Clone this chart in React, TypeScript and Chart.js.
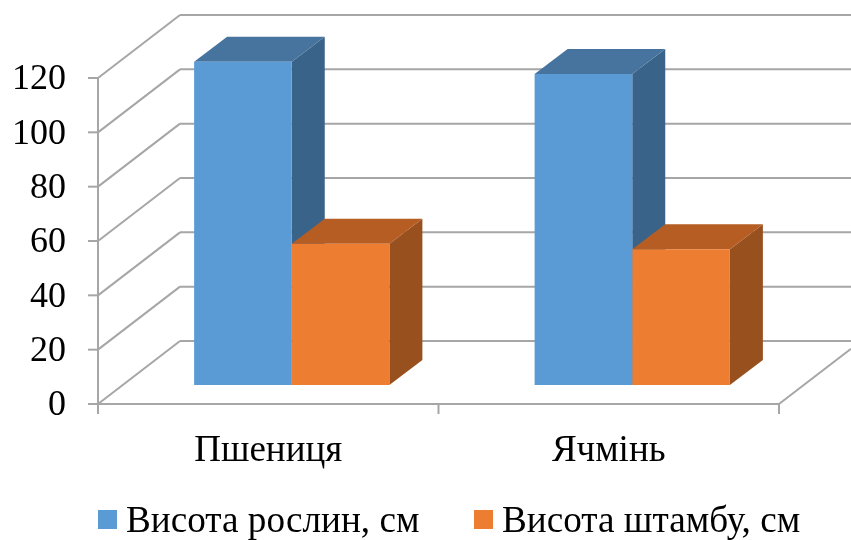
import React, { useEffect, useRef } from "react";
import { Chart, registerables } from "chart.js";

Chart.register(...registerables);

const categories = ["Пшениця", "Ячмінь"];
const plantHeight = [119, 114.5];
const stemHeight = [52, 50];
const seriesNames = ["Висота рослин, см", "Висота штамбу, см"];
const frontColors = ["#5b9bd5", "#ed7d31"];
const topColors = ["#47749f", "#b55d23"];
const sideColors = ["#3a6389", "#97501e"];
const gridColor = "#a6a6a6";
const fontFamily = "'Liberation Serif', serif";

// Oblique projection: how far the back wall sits from the front edge of the floor.
const WALL_DX = 82;
const WALL_DY = -63;
// Bars stand part way into the floor and have a fixed depth.
const BAR_DX = 23.5;
const BAR_DY = -19;
const DEPTH_DX = 33;
const DEPTH_DY = -25;

// Legend row: swatch and text start for each series.
const LEGEND_SWATCH_X = [98, 474];
const LEGEND_TEXT_X = [126, 502];
const LEGEND_SWATCH_Y = 510;
const LEGEND_SWATCH_SIZE = 19;
const LEGEND_BASELINE = 532;

function segment(ctx: CanvasRenderingContext2D, x1: number, y1: number, x2: number, y2: number) {
  ctx.beginPath();
  ctx.moveTo(x1, y1);
  ctx.lineTo(x2, y2);
  ctx.stroke();
}

function face(ctx: CanvasRenderingContext2D, pts: number[][], fill: string) {
  ctx.beginPath();
  pts.forEach(([x, y], i) => (i ? ctx.lineTo(x, y) : ctx.moveTo(x, y)));
  ctx.closePath();
  ctx.fillStyle = fill;
  ctx.fill();
}

const threeD = {
  id: "threeD",
  beforeDatasetsDraw(chart: any) {
    const { ctx, chartArea: a, scales } = chart;
    const right = chart.width;
    ctx.save();
    ctx.strokeStyle = gridColor;
    ctx.lineWidth = 2;
    // Side wall and back wall rulings for each value tick.
    scales.y.ticks.forEach((t: any) => {
      const y = scales.y.getPixelForValue(t.value);
      segment(ctx, a.left - 10, y, a.left, y);
      segment(ctx, a.left, y, a.left + WALL_DX, y + WALL_DY);
      segment(ctx, a.left + WALL_DX, y + WALL_DY, right, y + WALL_DY);
    });
    segment(ctx, a.left, a.top, a.left, a.bottom);
    // Floor outline and category separators.
    segment(ctx, a.left, a.bottom, a.right, a.bottom);
    const slot = (a.right - a.left) / categories.length;
    for (let i = 0; i <= categories.length; i++) {
      const x = a.left + slot * i;
      segment(ctx, x, a.bottom, x, a.bottom + 10);
    }
    const t = (right - a.right) / WALL_DX;
    segment(ctx, a.right, a.bottom, right, a.bottom + WALL_DY * t);
    ctx.restore();

    // Top and side faces first, the flat fronts go over them.
    ctx.save();
    chart.data.datasets.forEach((_: any, di: number) => {
      chart.getDatasetMeta(di).data.forEach((bar: any) => {
        const { x, y, width } = bar;
        const l = x - width / 2 + BAR_DX;
        const r = x + width / 2 + BAR_DX;
        const top = y + BAR_DY;
        const bottom = a.bottom + BAR_DY;
        face(ctx, [[r, top], [r + DEPTH_DX, top + DEPTH_DY], [r + DEPTH_DX, bottom + DEPTH_DY], [r, bottom]], sideColors[di]);
        face(ctx, [[l, top], [l + DEPTH_DX, top + DEPTH_DY], [r + DEPTH_DX, top + DEPTH_DY], [r, top]], topColors[di]);
      });
    });
    ctx.restore();
    ctx.save();
    ctx.translate(BAR_DX, BAR_DY);
  },
  afterDatasetsDraw(chart: any) {
    chart.ctx.restore();
  },
  afterDraw(chart: any) {
    const { ctx } = chart;
    ctx.save();
    ctx.font = `37.2px ${fontFamily}`;
    ctx.textBaseline = "alphabetic";
    seriesNames.forEach((name, i) => {
      ctx.fillStyle = frontColors[i];
      ctx.fillRect(LEGEND_SWATCH_X[i], LEGEND_SWATCH_Y, LEGEND_SWATCH_SIZE, LEGEND_SWATCH_SIZE);
      ctx.fillStyle = "#000";
      ctx.fillText(name, LEGEND_TEXT_X[i], LEGEND_BASELINE);
    });
    ctx.restore();
  },
};

export default function App() {
  const ref = useRef<HTMLCanvasElement>(null);

  useEffect(() => {
    const chart = new Chart(ref.current!, {
      type: "bar",
      data: {
        labels: categories,
        datasets: [
          { label: seriesNames[0], data: plantHeight, backgroundColor: frontColors[0] },
          { label: seriesNames[1], data: stemHeight, backgroundColor: frontColors[1] },
        ],
      },
      options: {
        animation: false,
        responsive: false,
        layout: { padding: { left: 0, right: 72, top: 78, bottom: 0 } },
        datasets: { bar: { barPercentage: 1, categoryPercentage: 0.5735 } },
        scales: {
          x: {
            afterFit: (s: any) => { s.height = 136; },
            grid: { display: false },
            border: { display: false },
            ticks: { color: "#000", font: { family: fontFamily, size: 37 }, padding: 17, maxRotation: 0 },
          },
          y: {
            min: 0,
            max: 120,
            afterFit: (s: any) => { s.width = 98; },
            grid: { display: false },
            border: { display: false },
            ticks: { stepSize: 20, color: "#000", font: { family: fontFamily, size: 36 }, padding: 24, labelOffset: 2 },
          },
        },
        plugins: {
          tooltip: { enabled: false },
          legend: { display: false },
        },
      },
      plugins: [threeD],
    });
    return () => chart.destroy();
  }, []);

  return (
    <div style={{ position: "absolute", left: 0, top: 0, width: 851, height: 540 }}>
      <canvas ref={ref} width={851} height={540} style={{ display: "block" }} />
    </div>
  );
}
